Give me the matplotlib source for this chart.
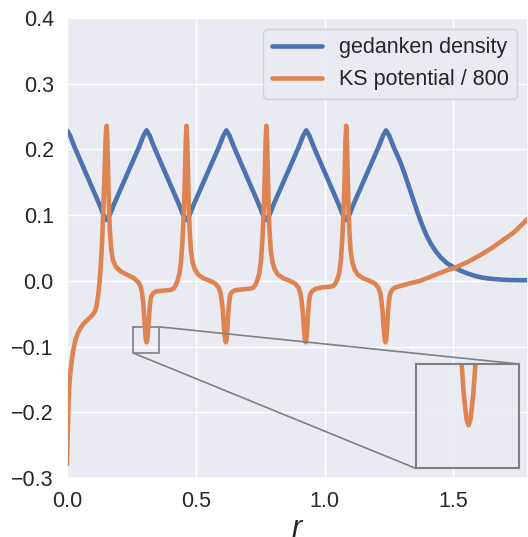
import matplotlib
matplotlib.use("Agg")
import matplotlib.pyplot as plt
import seaborn as sns
from mpl_toolkits.axes_grid1.inset_locator import mark_inset

# gedanken density
dens_r = [0.000, 0.012, 0.030, 0.125, 0.141, 0.154, 0.167, 0.183, 0.279, 0.297, 0.309,
          0.321, 0.339, 0.434, 0.450, 0.464, 0.477, 0.493, 0.589, 0.607, 0.619,
          0.631, 0.649, 0.744, 0.760, 0.774, 0.787, 0.803, 0.899, 0.917, 0.929,
          0.941, 0.959, 1.054, 1.070, 1.084, 1.097, 1.113, 1.209, 1.227, 1.239,
          1.251, 1.269, 1.293, 1.310, 1.328, 1.345, 1.362, 1.378, 1.395, 1.412,
          1.430, 1.450, 1.475, 1.500, 1.525, 1.550, 1.580, 1.610, 1.650, 1.700,
          1.750, 1.790]
dens = [0.229, 0.221, 0.203, 0.117, 0.101, 0.0925, 0.101, 0.117, 0.203, 0.221, 0.229,
        0.221, 0.203, 0.117, 0.101, 0.0925, 0.101, 0.117, 0.203, 0.221, 0.229,
        0.221, 0.203, 0.117, 0.101, 0.0925, 0.101, 0.117, 0.203, 0.221, 0.229,
        0.221, 0.203, 0.117, 0.101, 0.0925, 0.101, 0.117, 0.203, 0.221, 0.229,
        0.221, 0.203, 0.182, 0.164, 0.143, 0.123, 0.103, 0.086, 0.070, 0.057,
        0.046, 0.036, 0.027, 0.021, 0.016, 0.012, 0.008, 0.005, 0.003, 0.0015,
        0.001, 0.001]

# KS potential / 800
ks_r = [0.000, 0.002, 0.004, 0.006, 0.009, 0.013, 0.019, 0.025, 0.032, 0.042, 0.052,
        0.065, 0.078, 0.092, 0.103, 0.110, 0.116, 0.121, 0.126, 0.131, 0.136,
        0.141, 0.145, 0.149, 0.1515, 0.154,
        # spike 1 right / dip 1
        0.157, 0.160, 0.163, 0.166, 0.171, 0.178, 0.190, 0.210, 0.235, 0.260,
        0.279, 0.287, 0.292, 0.296, 0.299, 0.302, 0.3045, 0.307, 0.309, 0.311,
        0.3135, 0.316, 0.319, 0.322, 0.326, 0.334, 0.346, 0.370, 0.400, 0.414,
        # spike 2 / dip 2
        0.422, 0.430, 0.437, 0.443, 0.448, 0.452, 0.455, 0.458, 0.461, 0.464,
        0.467, 0.470, 0.473, 0.476, 0.481, 0.488, 0.497, 0.510, 0.530, 0.555,
        0.575, 0.589, 0.597, 0.602, 0.606, 0.609, 0.612, 0.6145, 0.617, 0.619,
        0.621, 0.6235, 0.626, 0.629, 0.632, 0.636, 0.644, 0.656, 0.680, 0.710, 0.724,
        # spike 3 / dip 3
        0.732, 0.740, 0.747, 0.753, 0.758, 0.762, 0.765, 0.768, 0.771, 0.774,
        0.777, 0.780, 0.783, 0.786, 0.791, 0.798, 0.807, 0.820, 0.840, 0.865,
        0.885, 0.899, 0.907, 0.912, 0.916, 0.919, 0.922, 0.9245, 0.927, 0.929,
        0.931, 0.9335, 0.936, 0.939, 0.942, 0.946, 0.954, 0.966, 0.990, 1.020, 1.034,
        # spike 4 / dip 4
        1.042, 1.050, 1.057, 1.063, 1.068, 1.072, 1.075, 1.078, 1.081, 1.084,
        1.087, 1.090, 1.093, 1.096, 1.101, 1.108, 1.117, 1.130, 1.150, 1.175,
        1.195, 1.209, 1.217, 1.222, 1.226, 1.229, 1.232, 1.2345, 1.237, 1.239,
        1.241, 1.2435, 1.246, 1.249, 1.252, 1.256, 1.264, 1.275, 1.293, 1.320,
        # tail
        1.345, 1.371, 1.410, 1.448, 1.475, 1.513, 1.552, 1.604, 1.650, 1.700,
        1.733, 1.760, 1.790]
ks = [-0.279, -0.250, -0.215, -0.185, -0.160, -0.140, -0.120, -0.104, -0.091, -0.080, -0.072,
      -0.065, -0.060, -0.055, -0.050, -0.045, -0.036, -0.022, -0.004, 0.022, 0.058,
      0.105, 0.155, 0.205, 0.228, 0.236,
      0.210, 0.157, 0.112, 0.080, 0.050, 0.032, 0.021, 0.014, 0.009, 0.004,
      -0.003, -0.010, -0.020, -0.034, -0.050, -0.068, -0.082, -0.091, -0.0935, -0.091,
      -0.082, -0.068, -0.050, -0.036, -0.025, -0.019, -0.016, -0.015, -0.014, -0.012,
      -0.007, 0.001, 0.012, 0.030, 0.058, 0.090, 0.120, 0.160, 0.210, 0.236,
      0.210, 0.157, 0.110, 0.078, 0.047, 0.028, 0.017, 0.009, 0.004, 0.000,
      -0.004, -0.010, -0.020, -0.034, -0.050, -0.068, -0.082, -0.091, -0.0935, -0.091,
      -0.082, -0.068, -0.050, -0.036, -0.025, -0.019, -0.016, -0.014, -0.013, -0.012, -0.010,
      -0.006, 0.002, 0.012, 0.030, 0.058, 0.090, 0.120, 0.160, 0.210, 0.236,
      0.210, 0.157, 0.110, 0.078, 0.047, 0.028, 0.017, 0.009, 0.004, 0.000,
      -0.004, -0.010, -0.020, -0.034, -0.050, -0.068, -0.082, -0.091, -0.0935, -0.091,
      -0.082, -0.068, -0.050, -0.036, -0.025, -0.019, -0.015, -0.012, -0.010, -0.009, -0.008,
      -0.004, 0.003, 0.012, 0.030, 0.058, 0.090, 0.120, 0.160, 0.210, 0.236,
      0.210, 0.157, 0.110, 0.078, 0.047, 0.028, 0.017, 0.009, 0.004, 0.000,
      -0.004, -0.010, -0.020, -0.034, -0.050, -0.068, -0.082, -0.091, -0.0935, -0.091,
      -0.082, -0.068, -0.050, -0.036, -0.025, -0.018, -0.013, -0.010, -0.008, -0.005,
      -0.0025, 0.000, 0.006, 0.012, 0.016, 0.021, 0.028, 0.039, 0.050, 0.064,
      0.073, 0.083, 0.095]

y_ticks = [-0.3, -0.2, -0.1, 0.0, 0.1, 0.2, 0.3, 0.4]
x_ticks = [0.0, 0.5, 1.0, 1.5]

sns.set_theme(style="darkgrid")
plt.rcParams['font.family'] = ['Liberation Sans', 'DejaVu Sans']
plt.rcParams['mathtext.fontset'] = 'custom'
plt.rcParams['mathtext.it'] = 'Liberation Sans:italic'
plt.rcParams['mathtext.rm'] = 'Liberation Sans'

fig = plt.figure(figsize=(5.28, 5.37), dpi=100)
ax = fig.add_axes([0.1269, 0.1099, 0.8731, 0.8566])

ax.plot(dens_r, dens, color='#4C72B0', lw=3.3, label='gedanken density')
ax.plot(ks_r, ks, color='#DD8452', lw=3.3, label='KS potential / 800')

ax.set_xlim(0, 1.79)
ax.set_ylim(-0.3, 0.4)
ax.set_xticks(x_ticks)
ax.set_yticks(y_ticks)
ax.tick_params(labelsize=15.5)
ax.set_xlabel('$r$', fontsize=22, labelpad=1)
ax.legend(loc='upper right', fontsize=15.5, handlelength=2.3)

# zoomed inset on the first dip
axins = fig.add_axes([0.7873, 0.1279, 0.1962, 0.1942])
axins.plot(ks_r, ks, color='#DD8452', lw=3.3)
axins.set_xlim(0.258, 0.358)
axins.set_ylim(-0.11, -0.07)
axins.set_xticks([])
axins.set_yticks([])
axins.set_facecolor((0.918, 0.918, 0.949, 0.85))
for sp in axins.spines.values():
    sp.set_visible(True)
    sp.set_edgecolor('0.5')
    sp.set_linewidth(1.5)
mark_inset(ax, axins, loc1=1, loc2=3, fc='none', ec='0.5', lw=1.2)

fig.savefig('out.png', dpi=100)
